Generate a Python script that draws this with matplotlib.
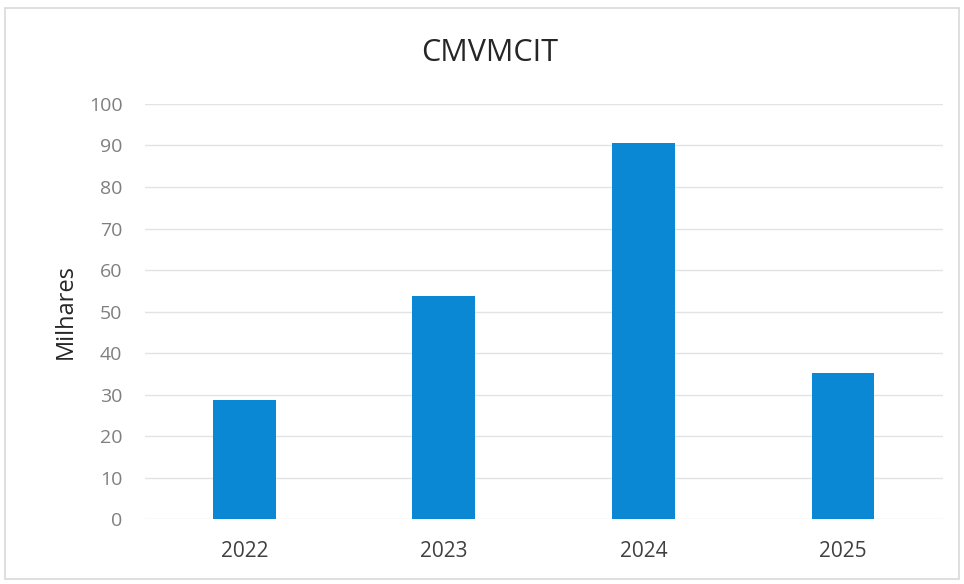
import matplotlib.pyplot as plt
from matplotlib.patches import Rectangle

# Data
years = ["2022", "2023", "2024", "2025"]
values = [28.7, 53.7, 90.6, 35.2]
y_ticks = list(range(0, 101, 10))

BAR = "#0B88D3"
GRID = "#E3E3E3"

plt.rcParams["font.family"] = ["Open Sans", "DejaVu Sans"]

fig = plt.figure(figsize=(9.64, 5.84), dpi=100)
ax = fig.add_axes([0.150, 0.111, 0.828, 0.711])

x = range(len(years))
ax.bar(x, values, width=0.315, color=BAR, zorder=3)

ax.set_xlim(-0.5, len(years) - 0.5)
ax.set_ylim(0, 100)
ax.set_yticks(y_ticks)
ax.set_xticks(list(x))
ax.set_xticklabels(years, fontsize=15, color="#404040")
ax.tick_params(axis="y", labelsize=14, labelcolor="#7F7F7F", length=0, pad=16)
ax.tick_params(axis="x", length=0, pad=16)
ax.grid(axis="y", color=GRID, linewidth=1.0, zorder=0)
for s in ax.spines.values():
    s.set_visible(False)

ax.set_ylabel("Milhares", fontsize=17, color="#262626", labelpad=8)
fig.text(0.508, 0.91, "CMVMCIT", ha="center", va="center", fontsize=22, color="#262626")

# light frame around the chart
fig.add_artist(Rectangle((0.005, 0.008), 0.99, 0.978, transform=fig.transFigure,
                         fill=False, edgecolor="#D9D9D9", linewidth=1.2))

fig.savefig("out.png", dpi=100)
